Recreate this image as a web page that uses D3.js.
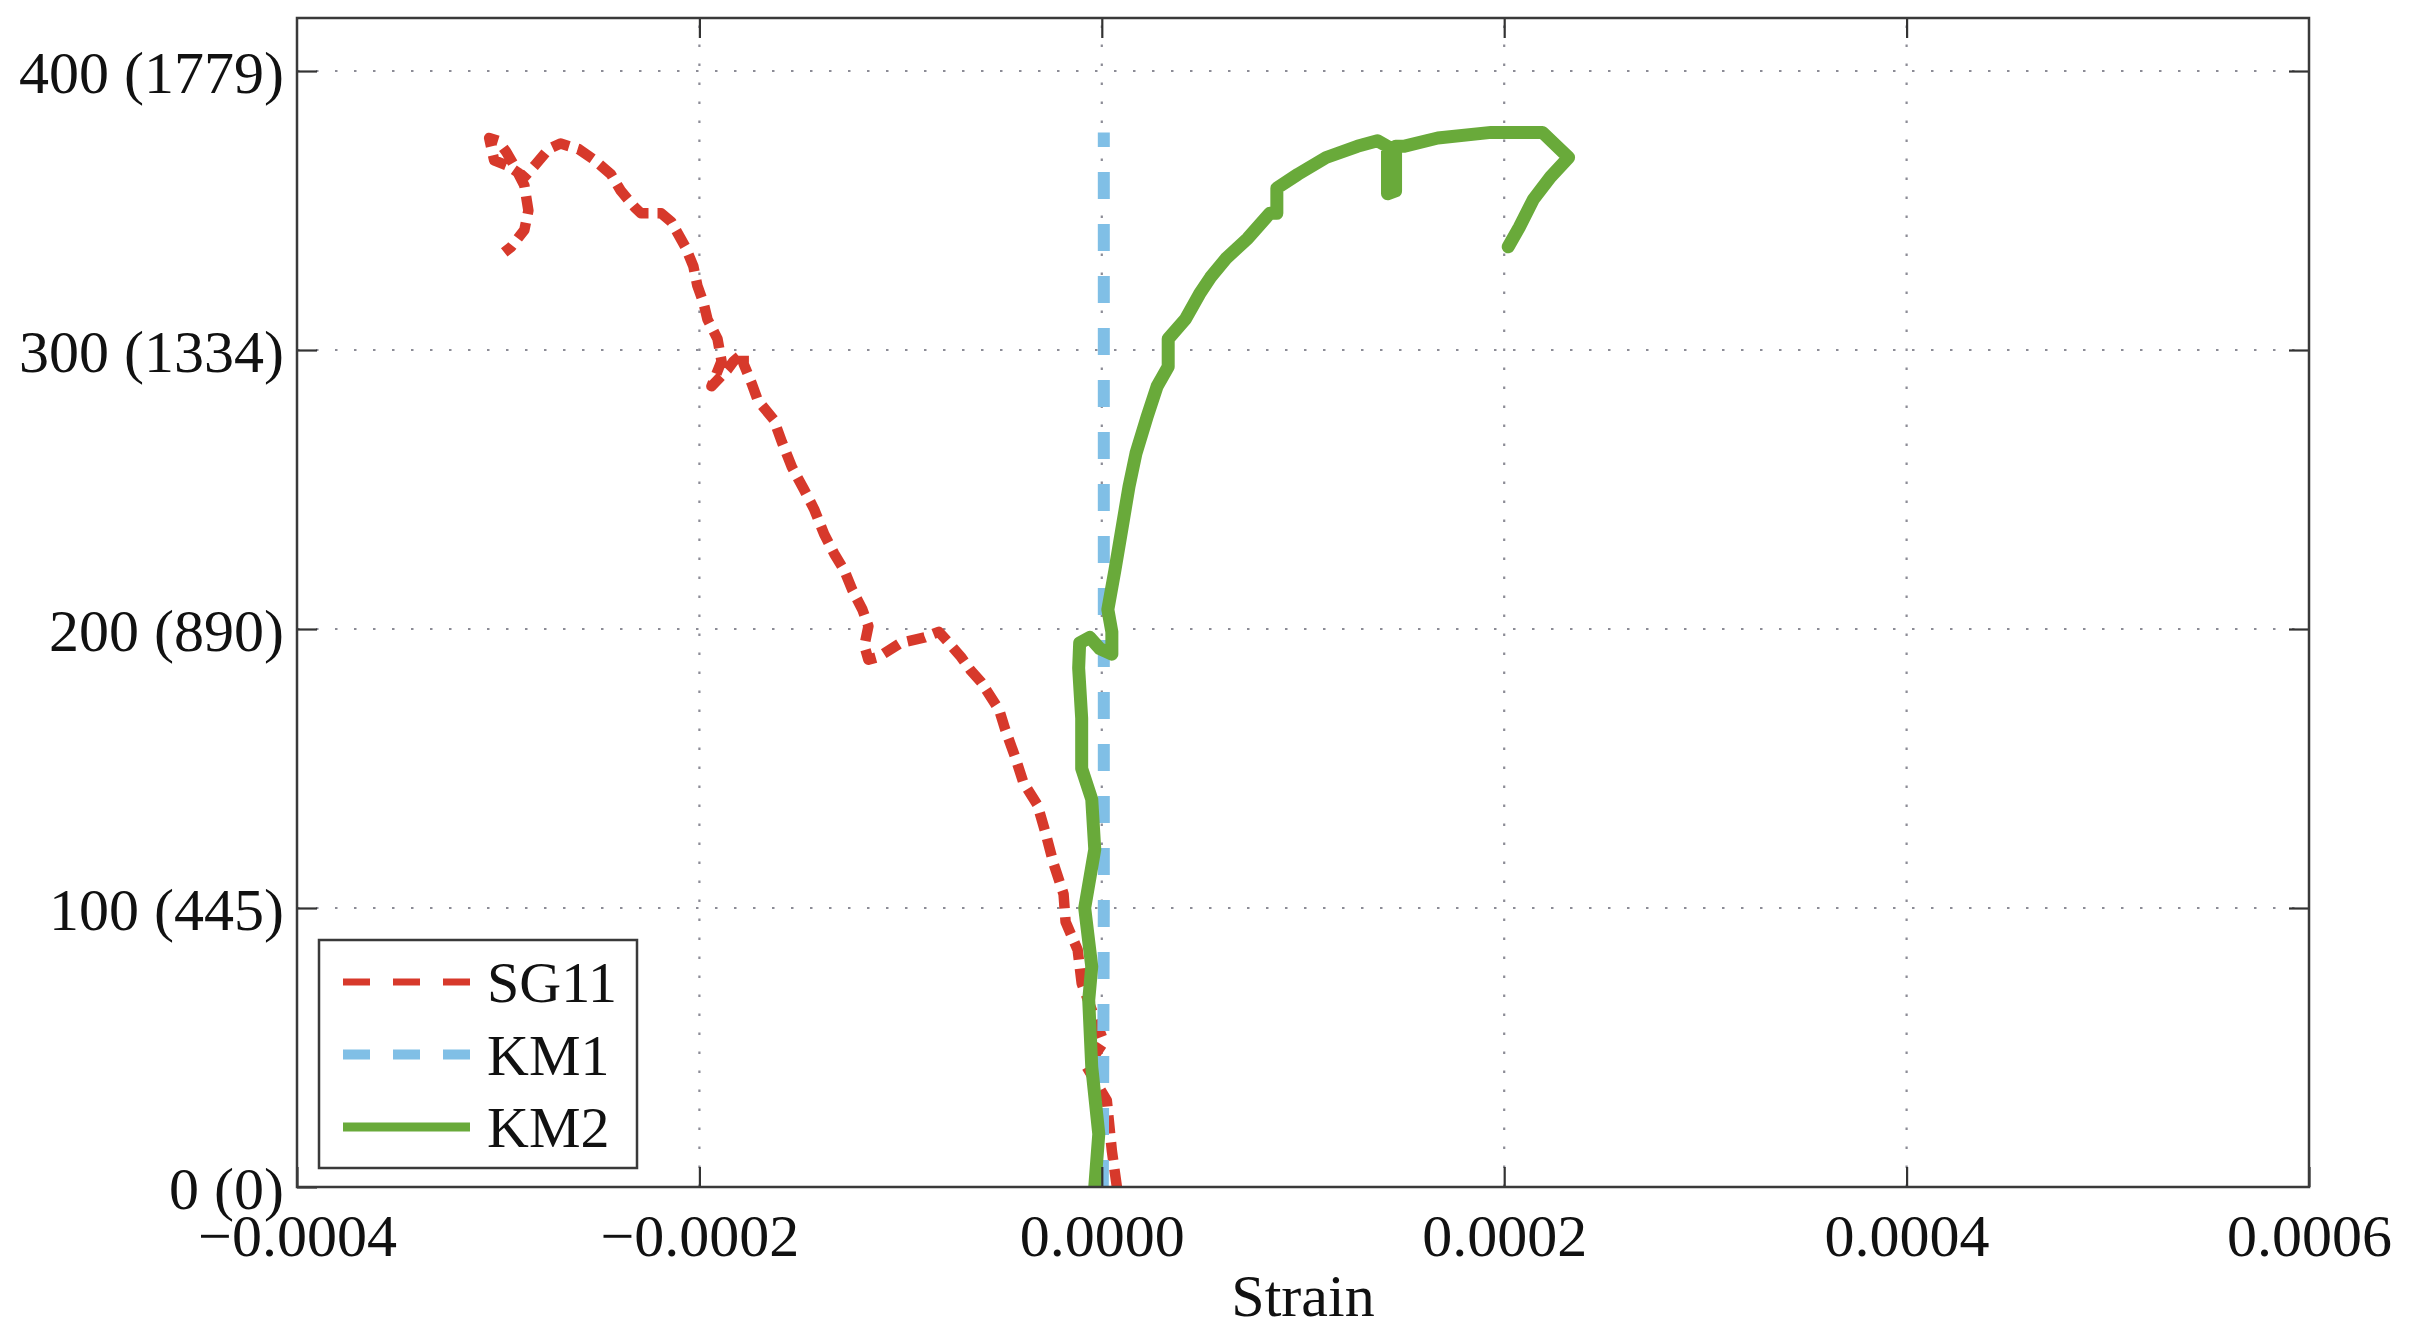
<!DOCTYPE html>
<html>
<head>
<meta charset="utf-8">
<script src="https://cdn.jsdelivr.net/npm/d3@7"></script>
<style>
  html, body { margin: 0; padding: 0; background: #ffffff; }
  svg { display: block; }
</style>
</head>
<body>
<svg id="chart" width="2410" height="1340"></svg>
<script>
// ---------------- data ----------------
const xTicks = [-0.0004, -0.0002, 0, 0.0002, 0.0004, 0.0006];
const xTickLabels = ["\u22120.0004", "\u22120.0002", "0.0000", "0.0002", "0.0004", "0.0006"];
const yTicks = [0, 100, 200, 300, 400];
const yTickLabels = ["0 (0)", "100 (445)", "200 (890)", "300 (1334)", "400 (1779)"];
const xLabel = "Strain";
const seriesNames = ["SG11", "KM1", "KM2"];

// [strain, load]
const sg11 = [
  [0.0000075, 0], [0.000005, 13], [0.0000025, 31], [-0.0000075, 43], [0.000001, 52],
  [-0.00001, 73], [-0.000012, 85], [-0.000018, 95], [-0.000019, 105], [-0.000024, 116],
  [-0.000028, 127], [-0.000032, 137], [-0.000039, 145], [-0.000043, 154], [-0.000048, 164],
  [-0.000051, 171], [-0.000060, 181], [-0.000065, 185], [-0.000070, 190], [-0.000076, 195],
  [-0.000081, 199], [-0.000088, 197], [-0.000100, 195], [-0.000111, 190], [-0.000116, 189],
  [-0.000118, 194], [-0.000116, 201], [-0.000119, 207], [-0.000124, 214], [-0.000128, 221],
  [-0.000133, 227], [-0.000138, 234], [-0.000143, 243], [-0.000148, 250], [-0.000154, 258],
  [-0.000159, 267], [-0.000163, 275], [-0.000171, 282], [-0.000174, 288], [-0.000178, 295],
  [-0.000178, 299], [-0.000183, 296], [-0.000186, 293], [-0.000194, 287], [-0.000189, 296],
  [-0.000191, 304], [-0.000196, 311], [-0.000198, 317], [-0.000201, 323], [-0.000203, 330],
  [-0.000207, 337], [-0.000214, 346], [-0.000219, 349], [-0.000229, 349], [-0.000232, 351],
  [-0.000239, 357], [-0.000244, 363], [-0.000252, 368], [-0.000260, 372], [-0.000269, 374],
  [-0.000275, 372], [-0.000282, 366], [-0.000287, 362], [-0.000295, 366], [-0.000302, 368],
  [-0.0003045, 376], [-0.000300, 375], [-0.000296, 371], [-0.000292, 366], [-0.000287, 359],
  [-0.000285, 350], [-0.000287, 343], [-0.0002935, 337], [-0.000297, 335]
];

const km1 = [
  [0.0000005, 0], [0.000001, 100], [0.000001, 200], [0.000001, 300], [0.000001, 378]
];

const km2 = [
  [-0.0000035, 0], [-0.0000015, 19], [-0.000005, 43], [-0.0000065, 67], [-0.000005, 79],
  [-0.0000085, 100], [-0.0000035, 121], [-0.000005, 139], [-0.00001, 150], [-0.00001, 168],
  [-0.0000115, 186], [-0.000011, 195], [-0.000006, 197], [-0.000001, 193], [0.000005, 191],
  [0.000005, 199], [0.000003, 207], [0.0000065, 221], [0.00001, 236], [0.0000135, 251],
  [0.000017, 263], [0.0000225, 276], [0.0000275, 287], [0.000033, 294], [0.000033, 304],
  [0.0000415, 311], [0.0000485, 320], [0.000054, 326], [0.000062, 333], [0.0000725, 340],
  [0.0000835, 349], [0.000087, 349], [0.000087, 358], [0.0000975, 363], [0.0001115, 369],
  [0.000127, 373], [0.000137, 375], [0.000142, 373], [0.000142, 356], [0.000146, 357],
  [0.000146, 373], [0.00015, 373], [0.000167, 376], [0.0001935, 378], [0.000219, 378],
  [0.000232, 369], [0.000223, 362], [0.0002145, 354], [0.0002075, 344], [0.000202, 337]
];

// ---------------- layout ----------------
const W = 2410, H = 1340;
const plot = { left: 297, right: 2309, top: 18, bottom: 1187 };
const FONT = "'Liberation Serif', 'Times New Roman', Times, serif";
const colors = { SG11: "#d7392b", KM1: "#80bfe6", KM2: "#69aa3a" };

const svg = d3.select("#chart");
svg.append("rect").attr("width", W).attr("height", H).attr("fill", "#ffffff");

const x = d3.scaleLinear().domain([-0.0004, 0.0006]).range([plot.left, plot.right]);
const y = d3.scaleLinear().domain([0, 419]).range([plot.bottom, plot.top]);

// grid
const grid = svg.append("g").attr("stroke", "#8c8c96").attr("stroke-width", 2.2)
  .attr("stroke-dasharray", "2.5,16.5");
grid.selectAll("line.gx").data(xTicks.slice(1, -1)).enter().append("line")
  .attr("x1", d => x(d)).attr("x2", d => x(d))
  .attr("y1", plot.bottom).attr("y2", plot.top);
grid.selectAll("line.gy").data(yTicks.slice(1)).enter().append("line")
  .attr("y1", d => y(d)).attr("y2", d => y(d))
  .attr("x1", plot.left).attr("x2", plot.right);

// series
const line = d3.line().x(d => x(d[0])).y(d => y(d[1]));
svg.append("clipPath").attr("id", "clip").append("rect")
  .attr("x", plot.left).attr("y", plot.top)
  .attr("width", plot.right - plot.left).attr("height", plot.bottom - plot.top);
const series = svg.append("g").attr("clip-path", "url(#clip)");
series.append("path").datum(sg11).attr("d", line)
  .attr("fill", "none").attr("stroke", colors.SG11).attr("stroke-width", 10.5)
  .attr("stroke-dasharray", "18,9").attr("stroke-linejoin", "round");
series.append("path").datum(km1).attr("d", line)
  .attr("fill", "none").attr("stroke", colors.KM1).attr("stroke-width", 12)
  .attr("stroke-dasharray", "27,25");
series.append("path").datum(km2).attr("d", line)
  .attr("fill", "none").attr("stroke", colors.KM2).attr("stroke-width", 13)
  .attr("stroke-linejoin", "round").attr("stroke-linecap", "round");

// axes
function styleAxis(g) {
  g.select(".domain").remove();
  g.selectAll(".tick line").attr("stroke", "#333").attr("stroke-width", 2.2);
  g.selectAll("text").attr("font-family", FONT).attr("font-size", 60).attr("fill", "#111");
}
svg.append("g").attr("transform", `translate(0,${plot.bottom})`)
  .call(d3.axisBottom(x).tickValues(xTicks).tickFormat((d, i) => xTickLabels[i])
    .tickSizeInner(-20).tickSizeOuter(0).tickPadding(26))
  .call(styleAxis);
svg.append("g").attr("transform", `translate(0,${plot.top})`)
  .call(d3.axisTop(x).tickValues(xTicks.slice(1, -1)).tickFormat("")
    .tickSizeInner(-20).tickSizeOuter(0))
  .call(styleAxis);
svg.append("g").attr("transform", `translate(${plot.left},0)`)
  .call(d3.axisLeft(y).tickValues(yTicks).tickFormat((d, i) => yTickLabels[i])
    .tickSizeInner(-20).tickSizeOuter(0).tickPadding(13))
  .call(styleAxis)
  .call(g => g.selectAll("text").attr("dy", "0.36em"));
svg.append("g").attr("transform", `translate(${plot.right},0)`)
  .call(d3.axisRight(y).tickValues(yTicks.slice(1)).tickFormat("")
    .tickSizeInner(-20).tickSizeOuter(0))
  .call(styleAxis);

// frame
svg.append("rect")
  .attr("x", plot.left).attr("y", plot.top)
  .attr("width", plot.right - plot.left).attr("height", plot.bottom - plot.top)
  .attr("fill", "none").attr("stroke", "#3a3a3a").attr("stroke-width", 2.5);

// x label
svg.append("text").attr("x", (plot.left + plot.right) / 2).attr("y", 1316)
  .attr("text-anchor", "middle").attr("font-family", FONT).attr("font-size", 60)
  .attr("fill", "#111").text(xLabel);

// legend
const lg = svg.append("g");
lg.append("rect").attr("x", 319).attr("y", 940).attr("width", 318).attr("height", 228)
  .attr("fill", "#ffffff").attr("stroke", "#3a3a3a").attr("stroke-width", 2.5);
const legendStyles = {
  SG11: { w: 7, dash: "27,23" },
  KM1: { w: 10, dash: "27,23" },
  KM2: { w: 9, dash: null }
};
seriesNames.forEach((name, i) => {
  const baseY = 1002 + i * 72.5;
  const ln = lg.append("line").attr("x1", 343).attr("x2", 470)
    .attr("y1", baseY - 20).attr("y2", baseY - 20)
    .attr("stroke", colors[name]).attr("stroke-width", legendStyles[name].w);
  if (legendStyles[name].dash) ln.attr("stroke-dasharray", legendStyles[name].dash);
  lg.append("text").attr("x", 487).attr("y", baseY)
    .attr("font-family", FONT).attr("font-size", 58).attr("fill", "#111").text(name);
});
</script>
</body>
</html>
